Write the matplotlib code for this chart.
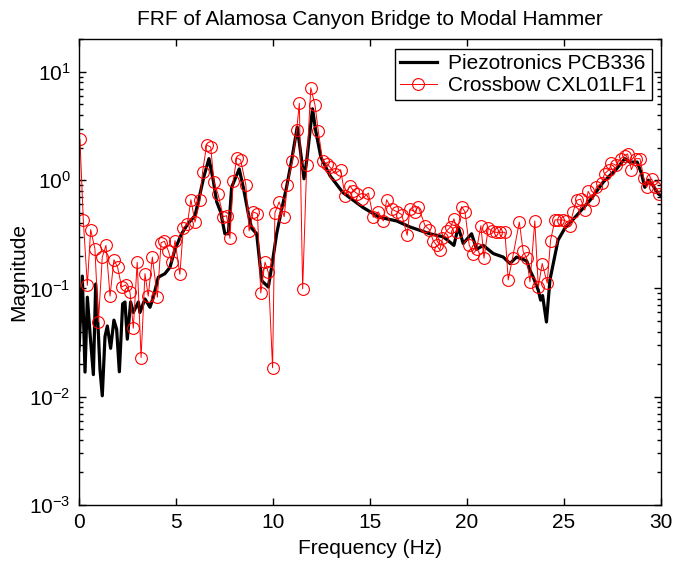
import matplotlib
matplotlib.use("Agg")
import matplotlib.pyplot as plt
from matplotlib.ticker import LogLocator, FixedLocator, NullLocator

plt.rcParams['font.family'] = ['Liberation Sans', 'DejaVu Sans']
plt.rcParams['mathtext.fontset'] = 'custom'
plt.rcParams['mathtext.rm'] = 'Liberation Sans'
plt.rcParams['mathtext.default'] = 'regular'

# Piezotronics PCB336 (black)
pcb_freq = [0.00, 0.17, 0.31, 0.43, 0.57, 0.74, 0.86, 1.00, 1.08, 1.20, 1.34, 1.46, 1.63,
            1.80, 1.94, 2.08, 2.25, 2.37, 2.49, 2.66, 2.80, 3.06, 3.14, 3.40, 3.66, 3.83,
            4.09, 4.43, 4.69, 4.95, 5.29, 5.63, 5.98, 6.24, 6.45, 6.70, 6.92, 7.10, 7.30,
            7.52, 7.70, 7.87, 8.26, 8.47, 8.73, 8.90, 9.16, 9.42, 9.76, 9.93, 10.19, 10.45,
            10.70, 10.96, 11.25, 11.39, 11.60, 11.74, 12.04, 12.20, 12.47, 12.94, 13.60,
            14.64, 15.48, 16.38, 17.06, 18.09, 18.78, 19.33, 19.55, 19.81, 20.24, 20.50,
            20.84, 21.36, 21.87, 22.22, 22.56, 23.08, 23.25, 23.42, 23.68, 23.80, 23.90,
            24.10, 24.28, 24.48, 24.70, 25.05, 25.65, 26.34, 27.03, 27.71, 28.14, 28.40,
            28.78, 29.00, 29.17, 29.35, 29.60, 29.86, 30.00]
pcb_mag = [0.027, 0.13, 0.0169, 0.083, 0.038, 0.016, 0.11, 0.038, 0.018, 0.0102, 0.036, 0.045,
           0.028, 0.051, 0.042, 0.017, 0.072, 0.075, 0.034, 0.075, 0.06, 0.075, 0.06, 0.08,
           0.067, 0.083, 0.127, 0.137, 0.157, 0.23, 0.32, 0.40, 0.47, 0.75, 1.1, 1.58, 1.0,
           0.63, 0.51, 0.32, 0.32, 0.86, 1.27, 0.86, 0.49, 0.36, 0.32, 0.118, 0.103, 0.157,
           0.32, 0.54, 0.86, 1.52, 3.09, 2.02, 1.03, 1.52, 4.56, 2.88, 1.63, 1.1, 0.77, 0.56,
           0.455, 0.42, 0.37, 0.32, 0.30, 0.25, 0.37, 0.26, 0.32, 0.23, 0.25, 0.21, 0.195,
           0.17, 0.195, 0.18, 0.147, 0.127, 0.096, 0.078, 0.086, 0.049, 0.12, 0.18, 0.28,
           0.36, 0.47, 0.65, 0.96, 1.27, 1.58, 1.47, 1.47, 1.15, 0.86, 1.0, 0.89, 0.75, 0.72]

# Crossbow CXL01LF1 (red circles)
cxl_freq = [0.05, 0.22, 0.43, 0.60, 0.82, 1.00, 1.20, 1.39, 1.60, 1.80, 1.99, 2.20, 2.40,
            2.63, 2.80, 3.00, 3.20, 3.40, 3.57, 3.78, 4.04, 4.23, 4.40, 4.60, 4.78, 4.95,
            5.20, 5.38, 5.58, 5.77, 5.98, 6.24, 6.37, 6.58, 6.79, 6.96, 7.16, 7.44, 7.61,
            7.78, 7.95, 8.13, 8.33, 8.60, 8.77, 8.98, 9.20, 9.37, 9.59, 9.76, 9.98, 10.10,
            10.32, 10.58, 10.74, 11.00, 11.22, 11.36, 11.53, 11.74, 11.95, 12.17, 12.34,
            12.56, 12.77, 12.94, 13.20, 13.49, 13.71, 13.97, 14.14, 14.35, 14.58, 14.92,
            15.17, 15.43, 15.69, 15.86, 16.12, 16.41, 16.64, 16.92, 17.06, 17.32, 17.49,
            17.84, 18.06, 18.26, 18.44, 18.60, 18.74, 18.95, 19.16, 19.33, 19.50, 19.73,
            19.90, 20.12, 20.33, 20.50, 20.72, 20.88, 21.10, 21.27, 21.50, 21.70, 21.96,
            22.13, 22.35, 22.70, 22.90, 23.08, 23.25, 23.50, 23.68, 23.88, 24.14, 24.31,
            24.54, 24.70, 24.93, 25.10, 25.30, 25.48, 25.65, 25.86, 26.08, 26.25, 26.50,
            26.68, 26.94, 27.10, 27.33, 27.45, 27.68, 27.92, 28.14, 28.28, 28.48, 28.71,
            28.92, 29.12, 29.26, 29.52, 29.69, 29.91]
cxl_mag = [2.38, 0.43, 0.107, 0.35, 0.233, 0.049, 0.195, 0.25, 0.085, 0.184, 0.157, 0.103,
           0.108, 0.092, 0.043, 0.175, 0.023, 0.137, 0.085, 0.195, 0.083, 0.264, 0.273, 0.224,
           0.175, 0.277, 0.135, 0.363, 0.39, 0.66, 0.41, 0.65, 1.19, 2.12, 2.02, 0.96, 0.75,
           0.46, 0.47, 0.29, 0.98, 1.61, 1.54, 0.91, 0.34, 0.51, 0.49, 0.091, 0.175, 0.141,
           0.0185, 0.50, 0.63, 0.46, 0.91, 1.50, 2.88, 5.14, 0.099, 1.37, 7.13, 4.90, 2.82,
           1.50, 1.42, 1.32, 1.15, 1.25, 0.72, 0.89, 0.80, 0.75, 0.67, 0.76, 0.455, 0.51,
           0.42, 0.66, 0.54, 0.51, 0.48, 0.31, 0.54, 0.51, 0.57, 0.38, 0.35, 0.277, 0.25,
           0.228, 0.29, 0.34, 0.37, 0.44, 0.33, 0.57, 0.51, 0.25, 0.21, 0.23, 0.38, 0.19,
           0.36, 0.34, 0.33, 0.33, 0.33, 0.12, 0.19, 0.41, 0.22, 0.19, 0.115, 0.42, 0.103,
           0.17, 0.112, 0.277, 0.43, 0.43, 0.43, 0.42, 0.38, 0.51, 0.65, 0.67, 0.53, 0.79,
           0.66, 0.87, 0.94, 1.15, 1.25, 1.44, 1.37, 1.58, 1.69, 1.75, 1.25, 1.58, 1.58,
           1.05, 0.86, 1.03, 0.87, 0.75]

x_ticks = [0, 5, 10, 15, 20, 25, 30]

FS = 15

fig = plt.figure(figsize=(6.73, 5.64), dpi=100)
ax = fig.add_axes([0.1174, 0.1046, 0.8646, 0.8257])

ax.semilogy(pcb_freq, pcb_mag, color='black', lw=2.3, label='Piezotronics PCB336')
ax.semilogy(cxl_freq, cxl_mag, color='red', lw=0.7, marker='o', ms=8.5,
            mfc='none', mec='red', mew=0.8, label='Crossbow CXL01LF1')

ax.set_xlim(0, 30)
ax.set_ylim(1e-3, 20)
ax.xaxis.set_major_locator(FixedLocator(x_ticks))
ax.xaxis.set_minor_locator(NullLocator())
ax.yaxis.set_major_locator(LogLocator(base=10, numticks=10))
ax.yaxis.set_minor_locator(LogLocator(base=10, subs=range(2, 10), numticks=20))
ax.tick_params(which='both', direction='in', top=True, right=True, labelsize=FS,
               width=1.0)
ax.tick_params(which='major', length=5, pad=6)
ax.tick_params(which='minor', length=3)
for s in ax.spines.values():
    s.set_linewidth(1.0)

ax.set_xlabel('Frequency (Hz)', fontsize=FS, labelpad=5)
ax.set_ylabel('Magnitude', fontsize=FS, labelpad=0.5)
ax.set_title('FRF of Alamosa Canyon Bridge to Modal Hammer', fontsize=FS, pad=10)

leg = ax.legend(loc='upper right', fontsize=FS, frameon=True, fancybox=False,
                edgecolor='black', framealpha=1, borderpad=0.25, handlelength=1.75,
                labelspacing=0.15, borderaxespad=0.45, handletextpad=0.55)
leg.get_frame().set_linewidth(1.0)

fig.savefig('out.png', dpi=100)
